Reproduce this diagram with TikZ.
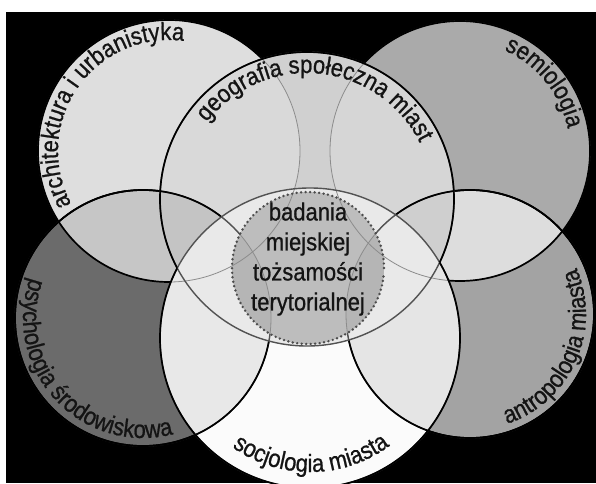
\documentclass[tikz,border=0pt]{standalone}
\usepackage{fontspec}
\setmainfont[FakeStretch=0.88, FakeBold=0.8]{Liberation Sans}
\usetikzlibrary{decorations.text}

% region shades
\definecolor{gA}{gray}{0.87}
\definecolor{gB}{gray}{0.815}
\definecolor{gAB}{gray}{0.85}
\definecolor{gBC}{gray}{0.84}
\definecolor{gC}{gray}{0.665}
\definecolor{gD}{gray}{0.42}
\definecolor{gAD}{gray}{0.775}
\definecolor{gABD}{gray}{0.77}
\definecolor{gE}{gray}{0.985}
\definecolor{gDE}{gray}{0.91}
\definecolor{gEF}{gray}{0.90}
\definecolor{gBE}{gray}{0.915}
\definecolor{gF}{gray}{0.64}
\definecolor{gCF}{gray}{0.865}
\definecolor{gBF}{gray}{0.82}
\definecolor{gBCF}{gray}{0.81}
\definecolor{gG}{gray}{0.74}
\definecolor{gGD}{gray}{0.71}
\definecolor{ink}{gray}{0.08}
\definecolor{midline}{gray}{0.32}
\definecolor{softline}{gray}{0.55}
\definecolor{dotline}{gray}{0.3}

\newcommand\lblfont{\fontsize{25}{29}\selectfont}

\def\rA{131pt}
\def\rB{147pt}
\def\rC{130pt}
\def\rD{128pt}
\def\rE{150pt}
\def\rF{124pt}
\def\rG{76pt}

\tikzset{
  % clockwise frame: combined with a (counter-clockwise) circle it clips to the outside of that circle
  frame/.style={insert path={(-20,-20) -- (-20,503) -- (616,503) -- (616,-20) -- cycle}},
  circA/.style={insert path={(cA) circle[radius=\rA]}},
  circB/.style={insert path={(cB) circle[radius=\rB]}},
  circC/.style={insert path={(cC) circle[radius=\rC]}},
  circD/.style={insert path={(cD) circle[radius=\rD]}},
  circE/.style={insert path={(cE) circle[radius=\rE]}},
  circF/.style={insert path={(cF) circle[radius=\rF]}},
  circG/.style={insert path={(cG) circle[radius=\rG]}},
  edge/.style={draw=black, line width=1.7pt},
  midedge/.style={draw=midline, line width=1.4pt},
  softedge/.style={draw=softline, line width=0.8pt},
  ring dot/.style={fill=dotline},
  arc label/.style={decorate, decoration={text along path, text align=center,
    text={|\lblfont\color{ink}|#1}}}
}

\begin{document}
\begin{tikzpicture}[x=1pt,y=1pt]
\useasboundingbox (0,0) rectangle (596,483);
\fill[white] (0,0) rectangle (596,483);
\fill[black] (6,0) rectangle (596,471);

\coordinate (cA) at (169,332);
\coordinate (cB) at (307,284);
\coordinate (cC) at (460,332);
\coordinate (cD) at (143,165);
\coordinate (cE) at (310,145);
\coordinate (cF) at (470,169);
\coordinate (cG) at (308,215);

% outer circles
\fill[gA] [circA];
\fill[gC] [circC];
\fill[gD] [circD];
\fill[gF] [circF];
\begin{scope}
  \clip[circA];
  \fill[gAD] [circD];
\end{scope}
\begin{scope}
  \clip[circC];
  \fill[gCF] [circF];
\end{scope}

% geography circle and its overlaps
\begin{scope}
  \clip[circB];
  \fill[gB] [circB];
  \fill[gAB] [circA];
  \fill[gBC] [circC];
  \fill[gABD] [circD];
  \fill[gBF] [circF];
  \begin{scope}
    \clip[circC];
    \fill[gBCF] [circF];
  \end{scope}
\end{scope}

% sociology circle and its overlaps
\begin{scope}
  \clip[circE];
  \fill[gE] [circE];
  \fill[gDE] [circD];
  \fill[gEF] [circF];
  \fill[gBE] [circB];
\end{scope}

% core circle
\fill[gG] [circG];
\begin{scope}
  \clip[circG];
  \fill[gGD] [circD];
  \fill[gGD] [circF];
\end{scope}

% outlines of the upper outer circles
\path[softedge] [circA];
\path[softedge] [circC];
\begin{scope}
  \clip[frame, circB];
  \clip[frame, circE];
  \path[edge] [circA];
  \path[edge] [circC];
\end{scope}

% outlines of the lower outer circles
\path[softedge] [circD];
\path[softedge] [circF];
\begin{scope}
  \clip[frame, circG];
  \path[midedge] [circD];
  \path[midedge] [circF];
  \begin{scope}
    \clip[frame, circE];
    \path[edge] [circD];
    \path[edge] [circF];
  \end{scope}
  \begin{scope}
    \clip[frame, circB];
    \path[edge] [circD];
    \path[edge] [circF];
  \end{scope}
\end{scope}

% outlines of geography and sociology circles
\path[midedge] [circB];
\path[midedge] [circE];
\begin{scope}
  \clip[frame, circE];
  \path[edge] [circB];
\end{scope}
\begin{scope}
  \clip[frame, circB];
  \path[edge] [circE];
\end{scope}

% dotted core ring
\foreach \a in {0,3.4,...,356.5}
  \fill[ring dot] (cG) ++(\a:\rG) circle[radius=1.35pt];

% curved labels
\path[arc label={architektura i urbanistyka}]
  (cA) ++(240.5:111pt) arc[start angle=240.5, end angle=50.5, radius=111pt];
\path[arc label={geografia społeczna miast}]
  (cB) ++(179.5:126pt) arc[start angle=179.5, end angle=-10.5, radius=126pt];
\path[arc label={semiologia}]
  (cC) ++(134:110pt) arc[start angle=134, end angle=-56, radius=110pt];
\path[arc label={psychologia środowiskowa}]
  (cD) ++(127.5:120pt) arc[start angle=127.5, end angle=317.5, radius=120pt];
\path[arc label={socjologia miasta}]
  (cE) ++(180.5:134pt) arc[start angle=180.5, end angle=360.5, radius=134pt];
\path[arc label={antropologia miasta}]
  (cF) ++(241:116pt) arc[start angle=241, end angle=431, radius=116pt];

\node[font=\fontsize{25}{30}\selectfont, text=ink, align=center, inner sep=0pt]
  (core) at (308,224) {badania\\miejskiej\\tożsamości\\terytorialnej};
\end{tikzpicture}
\end{document}
